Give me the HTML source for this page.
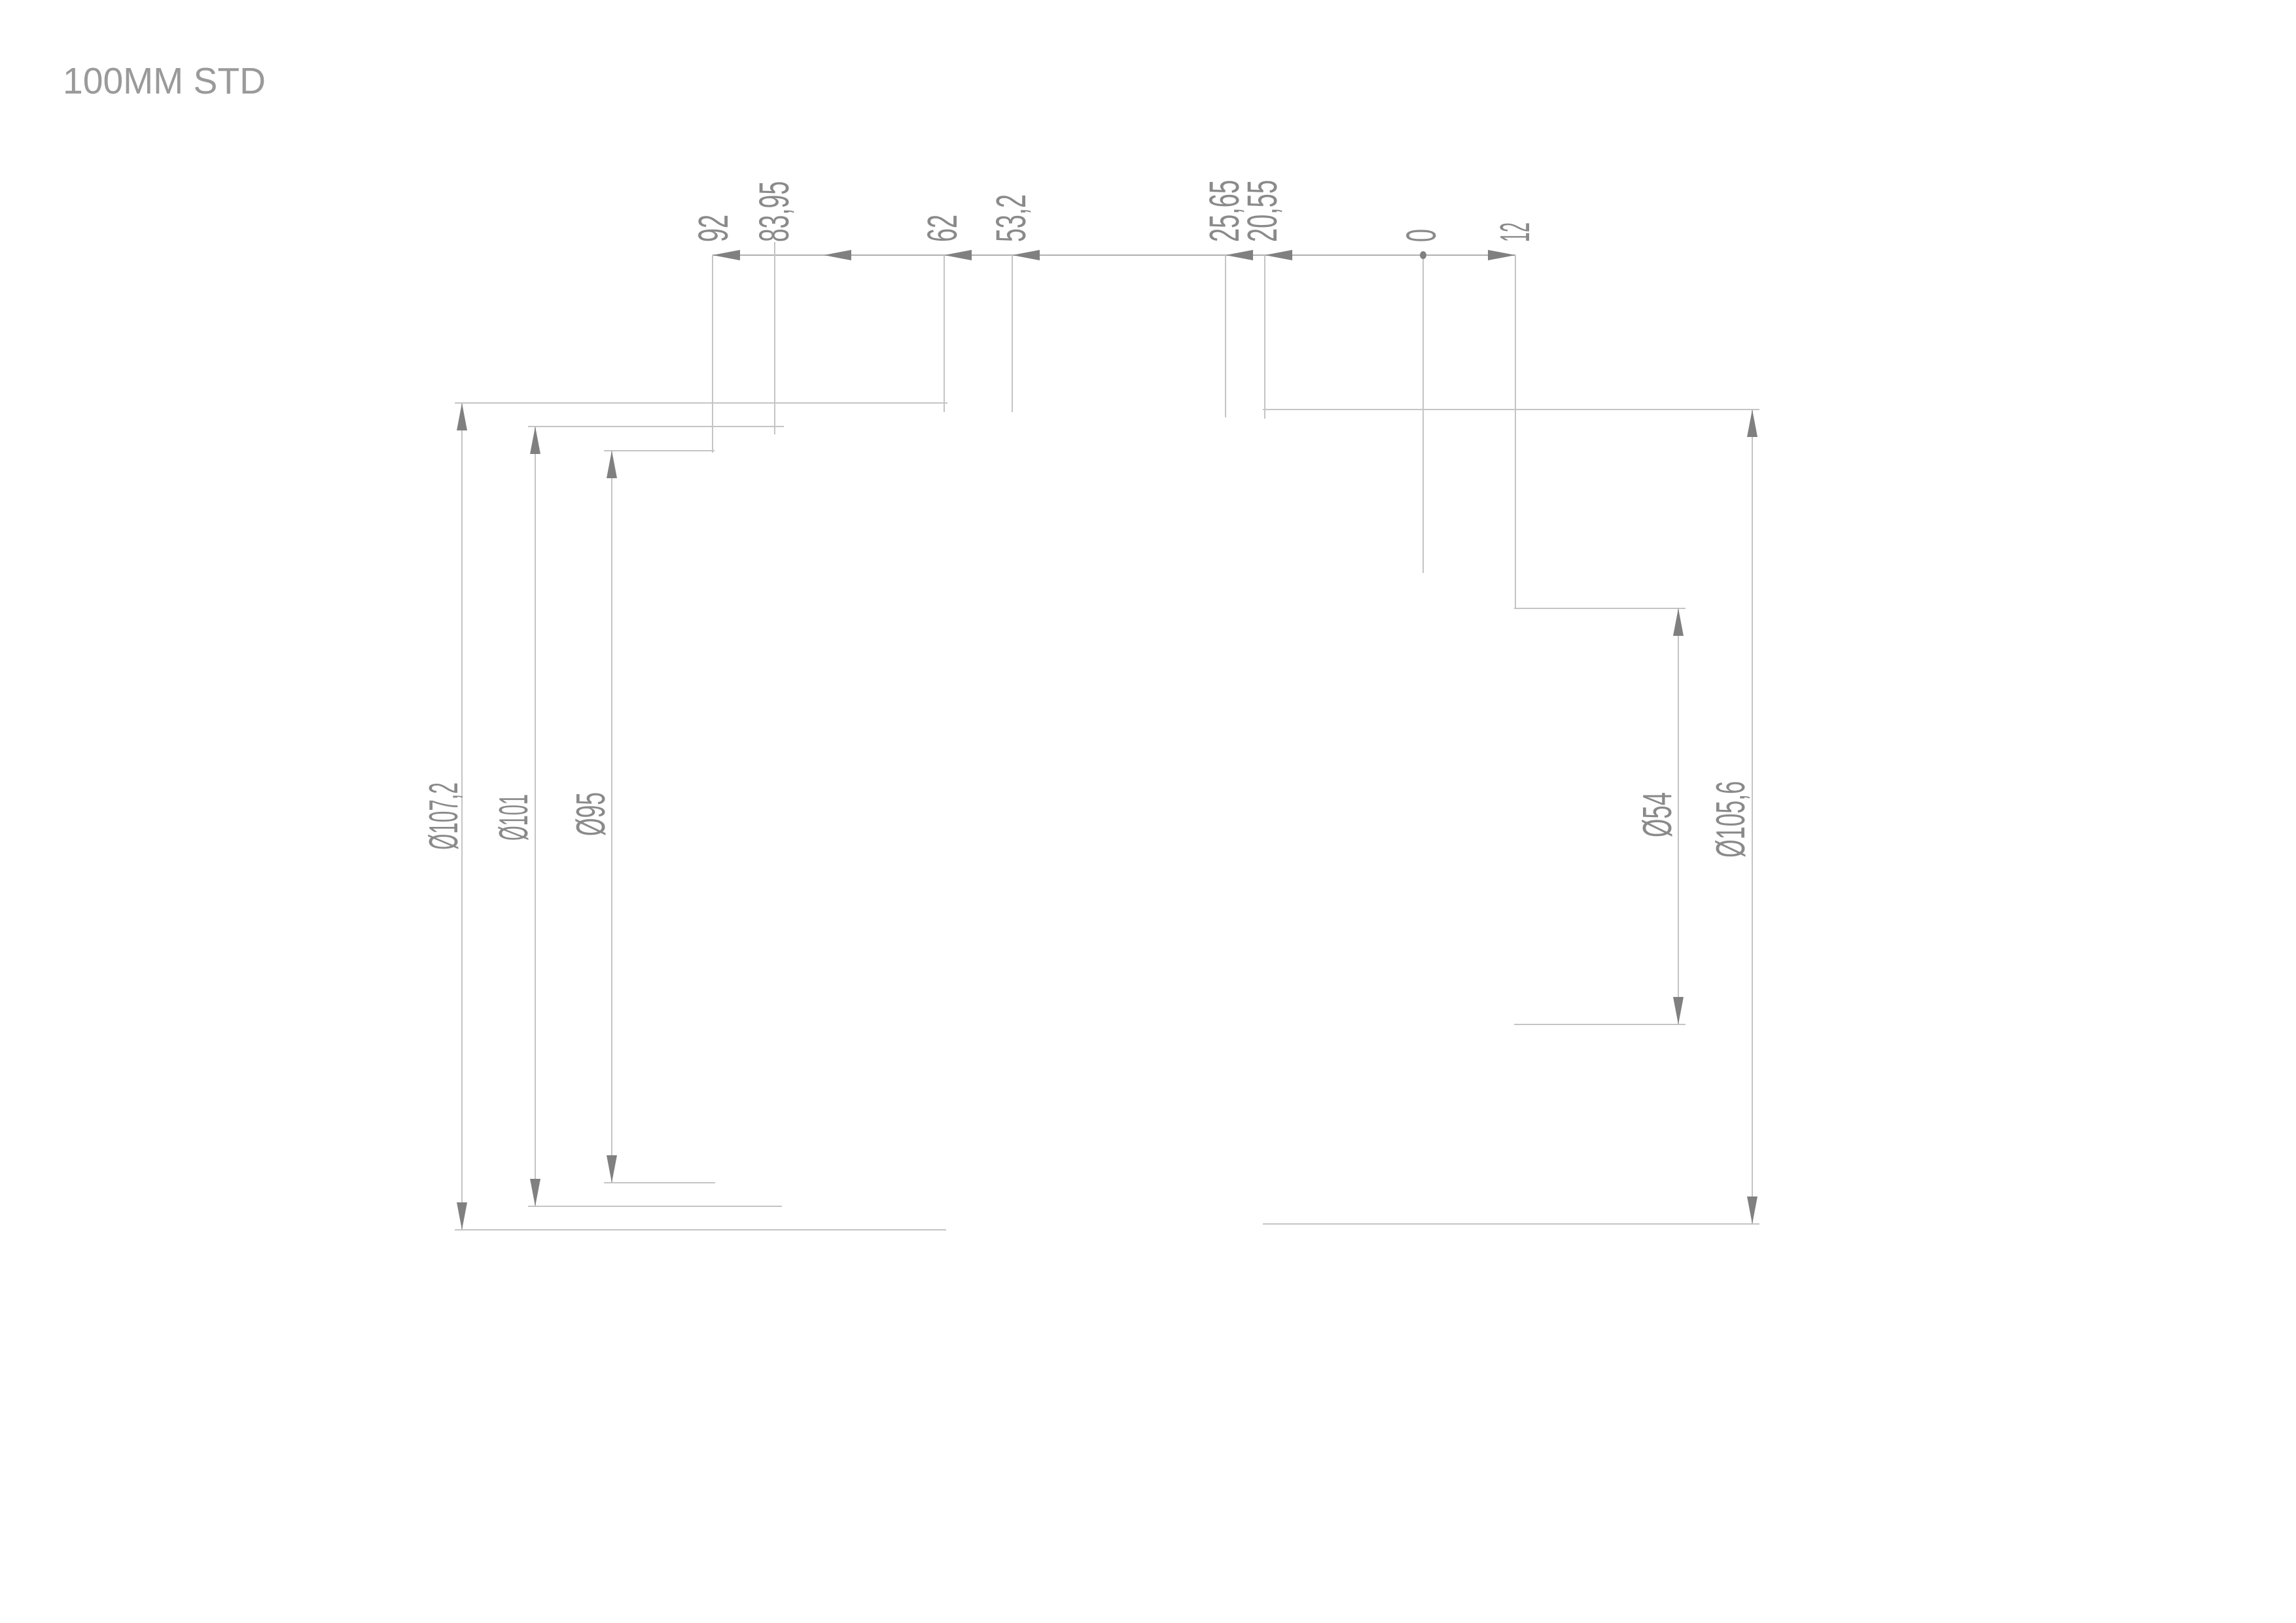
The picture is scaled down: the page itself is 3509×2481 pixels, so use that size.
<!DOCTYPE html>
<html><head><meta charset="utf-8"><style>html,body{margin:0;padding:0;background:#fff}svg{display:block}</style></head><body>
<svg width="3509" height="2481" viewBox="0 0 3509 2481" xmlns="http://www.w3.org/2000/svg">
<rect width="3509" height="2481" fill="#fff"/>
<text x="96" y="143" font-family="Liberation Sans, sans-serif" font-size="57" fill="#9a9a9a" textLength="310" lengthAdjust="spacingAndGlyphs">100MM STD</text>
<g stroke="#c4c4c4" stroke-width="2" fill="none">
<line x1="1089" y1="390" x2="2316" y2="390" stroke="#b0b0b0"/>
<line x1="1089" y1="390" x2="1089" y2="692"/>
<line x1="1184" y1="370" x2="1184" y2="664"/>
<line x1="1443" y1="390" x2="1443" y2="630"/>
<line x1="1547" y1="390" x2="1547" y2="630"/>
<line x1="1873" y1="390" x2="1873" y2="638"/>
<line x1="1933" y1="390" x2="1933" y2="640"/>
<line x1="2175" y1="390" x2="2175" y2="876"/>
<line x1="2316" y1="390" x2="2316" y2="930"/>
<line x1="695" y1="616" x2="1448" y2="616"/>
<line x1="807" y1="652" x2="1198" y2="652"/>
<line x1="923" y1="689" x2="1092" y2="689"/>
<line x1="695" y1="1880" x2="1446" y2="1880"/>
<line x1="807" y1="1844" x2="1195" y2="1844"/>
<line x1="923" y1="1808" x2="1093" y2="1808"/>
<line x1="706" y1="616" x2="706" y2="1880"/>
<line x1="818" y1="652" x2="818" y2="1844"/>
<line x1="935" y1="689" x2="935" y2="1808"/>
<line x1="1930" y1="626" x2="2689" y2="626"/>
<line x1="1930" y1="1871" x2="2689" y2="1871"/>
<line x1="2314" y1="930" x2="2576" y2="930"/>
<line x1="2314" y1="1566" x2="2576" y2="1566"/>
<line x1="2565" y1="930" x2="2565" y2="1566"/>
<line x1="2678" y1="626" x2="2678" y2="1871"/>
</g>
<g fill="#808080">
<polygon points="1089,390 1131,382 1131,398"/>
<polygon points="1259,390 1301,382 1301,398"/>
<polygon points="1443,390 1485,382 1485,398"/>
<polygon points="1547,390 1589,382 1589,398"/>
<polygon points="1873,390 1915,382 1915,398"/>
<polygon points="1933,390 1975,382 1975,398"/>
<polygon points="2316,390 2274,382 2274,398"/>
<ellipse cx="2175" cy="390" rx="5" ry="6"/>
<polygon points="706,616 698,658 714,658"/>
<polygon points="706,1880 698,1838 714,1838"/>
<polygon points="818,652 810,694 826,694"/>
<polygon points="818,1844 810,1802 826,1802"/>
<polygon points="935,689 927,731 943,731"/>
<polygon points="935,1808 927,1766 943,1766"/>
<polygon points="2565,930 2557,972 2573,972"/>
<polygon points="2565,1566 2557,1524 2573,1524"/>
<polygon points="2678,626 2670,668 2686,668"/>
<polygon points="2678,1871 2670,1829 2686,1829"/>
</g>
<g font-family="Liberation Sans, sans-serif" font-size="64" fill="#8a8a8a">
<text transform="translate(1112,370) rotate(-90)" textLength="42" lengthAdjust="spacingAndGlyphs">92</text>
<text transform="translate(1205,370) rotate(-90)" textLength="93" lengthAdjust="spacingAndGlyphs">83,95</text>
<text transform="translate(1462,370) rotate(-90)" textLength="42" lengthAdjust="spacingAndGlyphs">62</text>
<text transform="translate(1567,370) rotate(-90)" textLength="73" lengthAdjust="spacingAndGlyphs">53,2</text>
<text transform="translate(1893,370) rotate(-90)" textLength="95" lengthAdjust="spacingAndGlyphs">25,65</text>
<text transform="translate(1951,370) rotate(-90)" textLength="95" lengthAdjust="spacingAndGlyphs">20,55</text>
<text transform="translate(2194,370) rotate(-90)" textLength="20" lengthAdjust="spacingAndGlyphs">0</text>
<text transform="translate(2337,370) rotate(-90)" textLength="30" lengthAdjust="spacingAndGlyphs">12</text>
</g>
<g font-family="Liberation Sans, sans-serif" font-size="62" fill="#8a8a8a">
<text transform="translate(699,1299) rotate(-90)" textLength="103" lengthAdjust="spacingAndGlyphs">Ø107,2</text>
<text transform="translate(806,1285) rotate(-90)" textLength="71" lengthAdjust="spacingAndGlyphs">Ø101</text>
<text transform="translate(924,1278) rotate(-90)" textLength="67" lengthAdjust="spacingAndGlyphs">Ø95</text>
<text transform="translate(2554,1280) rotate(-90)" textLength="69" lengthAdjust="spacingAndGlyphs">Ø54</text>
<text transform="translate(2666,1311) rotate(-90)" textLength="117" lengthAdjust="spacingAndGlyphs">Ø105,6</text>
</g>
</svg>
</body></html>
